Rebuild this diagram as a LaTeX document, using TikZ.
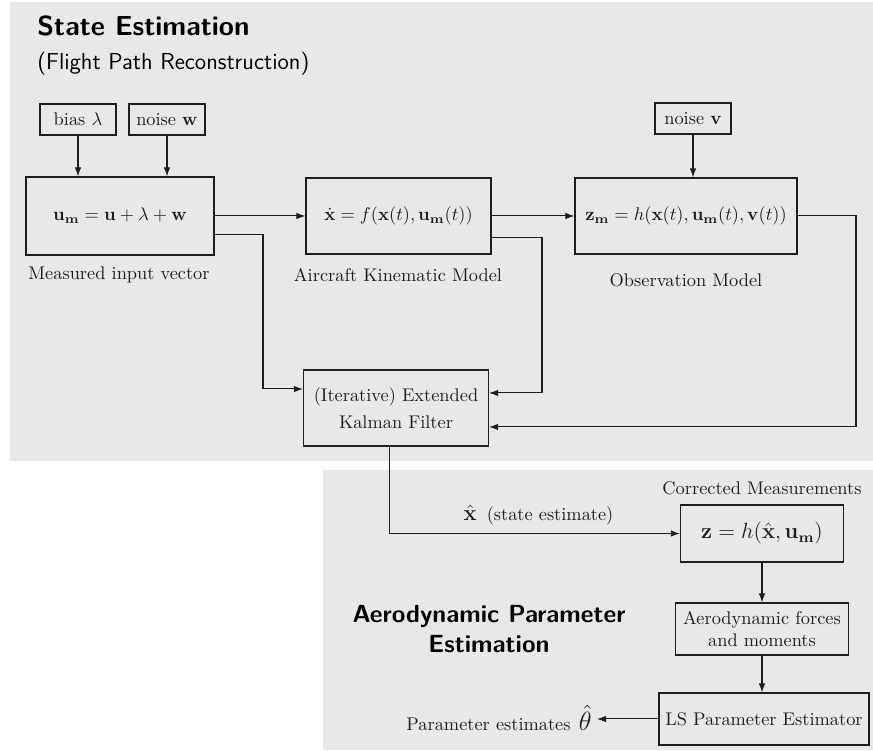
\documentclass[tikz,border=0pt]{standalone}
\usepackage{amsmath}
\usetikzlibrary{arrows.meta,calc}
\definecolor{panel}{RGB}{232,232,232}
\definecolor{ink}{RGB}{30,30,30}
\tikzset{
  sz/.style 2 args={minimum width=#1*0.545pt, minimum height=#2*0.545pt},
  blk/.style={draw=ink, line width=0.6pt, fill=panel, inner sep=0pt, align=center, text=ink, font=\fontsize{10}{12}\selectfont},
  lbl/.style={inner sep=0pt, align=center, text=ink, font=\fontsize{10}{12}\selectfont},
  conn/.style={draw=ink, line width=0.55pt, -{Latex[length=5pt,width=3.6pt]}},
  ttl/.style={inner sep=0pt, anchor=base west, text=black, font=\fontsize{15}{18}\selectfont\sffamily\bfseries},
  subttl/.style={inner sep=0pt, anchor=base west, text=black, font=\fontsize{12.6}{15}\selectfont\sffamily},
}
\begin{document}
\begin{tikzpicture}[x=0.545pt,y=-0.545pt]
\useasboundingbox (0,0) rectangle (873,751);
% panels
\fill[panel] (10,2) rectangle (873,461);
\fill[panel] (323,470) rectangle (873,750);
% titles
\node[ttl] (t1) at (37,36) {State Estimation};
\node[subttl] (t2) at (37,70) {(Flight Path Reconstruction)};
\node[lbl, font=\fontsize{13.5}{16.4}\selectfont\sffamily\bfseries, text=black] (aet) at (489,629) {Aerodynamic Parameter\\Estimation};
% blocks
\node[blk, sz={76}{31}] (bias) at (78,119.5) {bias $\lambda$};
\node[blk, sz={76}{31}] (nw) at (167,119.5) {noise $\mathbf{w}$};
\node[blk, sz={76}{31}] (nv) at (693,118.5) {noise $\mathbf{v}$};
\node[blk, sz={188}{78}] (um) at (120,216) {$\mathbf{u_m} = \mathbf{u} + \lambda + \mathbf{w}$};
\node[blk, sz={185}{76}] (xd) at (398.5,216) {$\dot{\mathbf{x}} = f(\mathbf{x}(t), \mathbf{u_m}(t))$};
\node[blk, sz={222}{76}] (zm) at (686,216) {$\mathbf{z_m} = h(\mathbf{x}(t), \mathbf{u_m}(t), \mathbf{v}(t))$};
\node[blk, sz={185}{76}, font=\fontsize{10}{14.5}\selectfont] (kf) at (396,408) {(Iterative) Extended\\Kalman Filter};
\node[blk, sz={163}{57}, font=\fontsize{12}{14}\selectfont] (z) at (762,533.5) {$\mathbf{z} = h(\hat{\mathbf{x}}, \mathbf{u_m})$};
\node[blk, sz={173.5}{52}, font=\fontsize{10}{11.8}\selectfont] (aero) at (762,629) {Aerodynamic forces\\and moments};
\node[blk, sz={210}{52}] (ls) at (764,719) {LS Parameter Estimator};
% labels
\node[lbl] (lum) at (119,275) {Measured input vector};
\node[lbl] (lxd) at (398,275) {Aircraft Kinematic Model};
\node[lbl] (lzm) at (686,280) {Observation Model};
\node[lbl] (lz) at (762,488) {Corrected Measurements};
\node[lbl] (xs) at (538.5,515) {{\fontsize{13}{15}\selectfont$\hat{\mathbf{x}}$}\hspace{5.5pt}(state estimate)};
\node[lbl, anchor=east] (pe) at (592,718) {Parameter estimates\hspace{4.5pt}{\fontsize{14}{16}\selectfont$\hat{\theta}$}};
% connectors
\draw[conn] (bias.south) -- (bias.south |- um.north);
\draw[conn] (nw.south) -- (nw.south |- um.north);
\draw[conn] (nv.south) -- (nv.south |- zm.north);
\draw[conn] (um.east) -- (xd.west);
\draw[conn] (xd.east) -- (zm.west);
\coordinate (b1) at (263,389);
\coordinate (b2) at (542,393);
\coordinate (b3) at (856,427);
\draw[conn] (um.east |- 0,235) -| (b1) -- (b1 -| kf.west);
\draw[conn] (xd.east |- 0,238) -| (b2) -- (b2 -| kf.east);
\draw[conn] (zm.east) -| (b3) -- (b3 -| kf.east);
\draw[conn] (kf.south -| 389.5,0) |- (z.west);
\draw[conn] (z.south) -- (aero.north);
\draw[conn] (aero.south) -- (aero.south |- ls.north);
\draw[conn] (ls.west) -- (597,719);
\end{tikzpicture}
\end{document}
